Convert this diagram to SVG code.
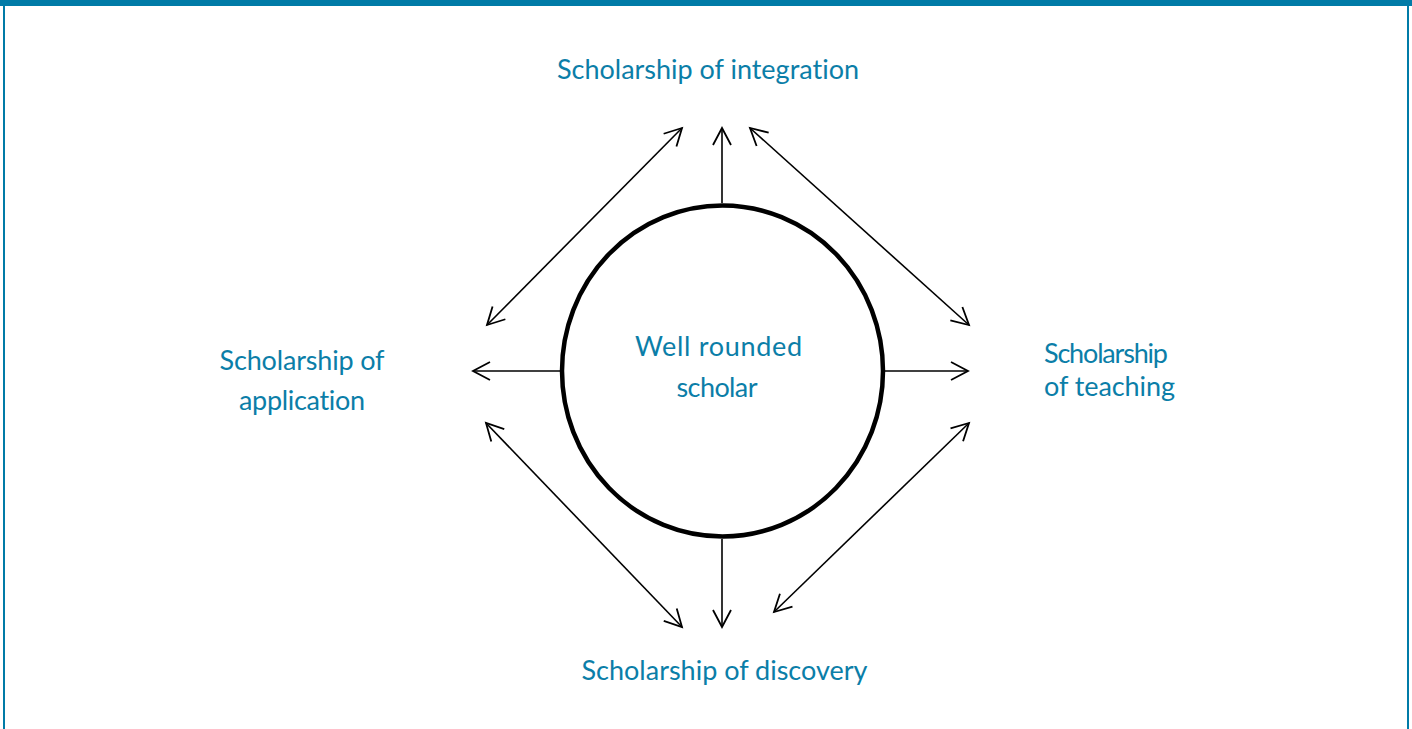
<svg xmlns="http://www.w3.org/2000/svg" width="1412" height="729" viewBox="0 0 1412 729">
<style>
.lbl{font-family:Lato,"Open Sans","Liberation Sans",sans-serif;font-size:27px;fill:#0b7ea8;font-variant-ligatures:none}
.conn{stroke:#000;stroke-width:1.6;fill:none}
</style>
<defs>
<marker id="ah" markerUnits="userSpaceOnUse" markerWidth="24" markerHeight="24" viewBox="-20 -12 24 24" refX="0" refY="0" orient="auto-start-reverse">
<path d="M-17,-9 L0,0 L-17,9" fill="none" stroke="#000" stroke-width="1.8"/>
</marker>
</defs>
<rect width="1412" height="729" fill="#fff"/>
<g id="frame" fill="#007ba7">
<rect x="0" y="0" width="1412" height="6"/>
<rect x="3" y="0" width="2" height="729"/>
<rect x="1407" y="0" width="2" height="729"/>
</g>
<g id="connectors" class="conn">
<line x1="722" y1="203" x2="722" y2="128" marker-end="url(#ah)"/>
<line x1="722" y1="539" x2="722" y2="627" marker-end="url(#ah)"/>
<line x1="560" y1="371" x2="473" y2="371" marker-end="url(#ah)"/>
<line x1="885" y1="371" x2="968" y2="371" marker-end="url(#ah)"/>
<line x1="682" y1="128" x2="487" y2="325" marker-start="url(#ah)" marker-end="url(#ah)"/>
<line x1="750" y1="128" x2="969" y2="325" marker-start="url(#ah)" marker-end="url(#ah)"/>
<line x1="486" y1="423" x2="682" y2="627" marker-start="url(#ah)" marker-end="url(#ah)"/>
<line x1="969" y1="423" x2="774" y2="612" marker-start="url(#ah)" marker-end="url(#ah)"/>
</g>
<g id="center">
<ellipse cx="722.5" cy="371" rx="160.5" ry="165.5" fill="none" stroke="#000" stroke-width="4.5"/>
<text class="lbl" x="718.5" y="356" text-anchor="middle" textLength="167">Well rounded</text>
<text class="lbl" x="717" y="397" text-anchor="middle" textLength="81">scholar</text>
</g>
<g id="integration">
<text class="lbl" x="708" y="79" text-anchor="middle" textLength="302">Scholarship of integration</text>
</g>
<g id="application">
<text class="lbl" x="302" y="370" text-anchor="middle" textLength="165">Scholarship of</text>
<text class="lbl" x="302" y="410" text-anchor="middle" textLength="126">application</text>
</g>
<g id="teaching">
<text class="lbl" x="1044" y="363" textLength="124">Scholarship</text>
<text class="lbl" x="1044" y="396" textLength="131">of teaching</text>
</g>
<g id="discovery">
<text class="lbl" x="724.5" y="680" text-anchor="middle" textLength="286">Scholarship of discovery</text>
</g>
</svg>
